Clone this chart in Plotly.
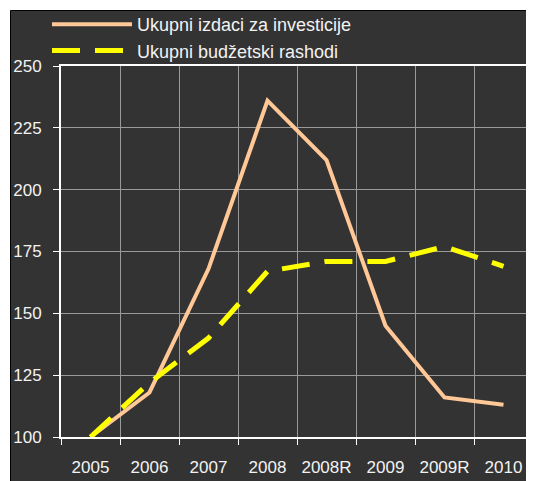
import plotly.graph_objects as go

categories = ["2005", "2006", "2007", "2008", "2008R", "2009", "2009R", "2010"]
investicije = [100, 118, 168, 236, 212, 145, 116, 113]
rashodi = [100, 122, 140, 167, 171, 171, 177, 169]
y_ticks = [100, 125, 150, 175, 200, 225, 250]

name_inv = "Ukupni izdaci za investicije"
name_ras = "Ukupni budžetski rashodi"

# page body has an 8px margin, so the figure is sized to the visible area
W, H = 526, 473
L, R, T, B = 53, 1, 58, 44
pw, ph = W - L - R, H - T - B

def px_x(px):
    return (px - L) / pw

def px_y(py):
    return (H - B - py) / ph

fig = go.Figure()
fig.add_trace(go.Scatter(x=categories, y=investicije, mode="lines", name=name_inv,
                         line=dict(color="#FFC896", width=4)))
fig.add_trace(go.Scatter(x=categories, y=rashodi, mode="lines", name=name_ras,
                         line=dict(color="#FFFF00", width=5, dash="28px,15px")))

# dark frame with black border
fig.add_shape(type="rect", xref="paper", yref="paper",
              x0=px_x(2.5), x1=px_x(W + 5), y0=px_y(H + 5), y1=px_y(2.5),
              fillcolor="#333333", line=dict(color="#000000", width=1), layer="below")

fig.update_layout(
    width=W, height=H,
    margin=dict(l=L, r=R, t=T, b=B, autoexpand=False),
    paper_bgcolor="#FFFFFF",
    plot_bgcolor="#333333",
    font=dict(family="Liberation Sans, Arial, sans-serif", color="#F2F2F2", size=16),
    showlegend=True,
    legend=dict(x=px_x(39), y=px_y(-2), xanchor="left", yanchor="top",
                bgcolor="rgba(0,0,0,0)", font=dict(size=18, color="#F2F2F2"),
                itemwidth=80, tracegroupgap=0),
)
fig.update_xaxes(
    type="category", range=[-0.5, 7.5], tickson="boundaries", tickangle=0,
    showgrid=True, gridcolor="#9A9A9A", gridwidth=1,
    showline=True, linecolor="#FFFFFF", linewidth=2, mirror=True,
    ticks="outside", ticklen=6, tickcolor="#FFFFFF", tickwidth=1,
    ticklabelstandoff=14, tickfont=dict(size=17, color="#F2F2F2"),
    automargin=False,
)
fig.update_yaxes(
    range=[100, 250], tickvals=y_ticks,
    showgrid=True, gridcolor="#9A9A9A", gridwidth=1,
    showline=True, linecolor="#FFFFFF", linewidth=2,
    ticks="outside", ticklen=6, tickcolor="#FFFFFF", tickwidth=1,
    ticklabelstandoff=8, tickfont=dict(size=17, color="#F2F2F2"),
    zeroline=False, automargin=False,
)

fig.write_html("out.html")
